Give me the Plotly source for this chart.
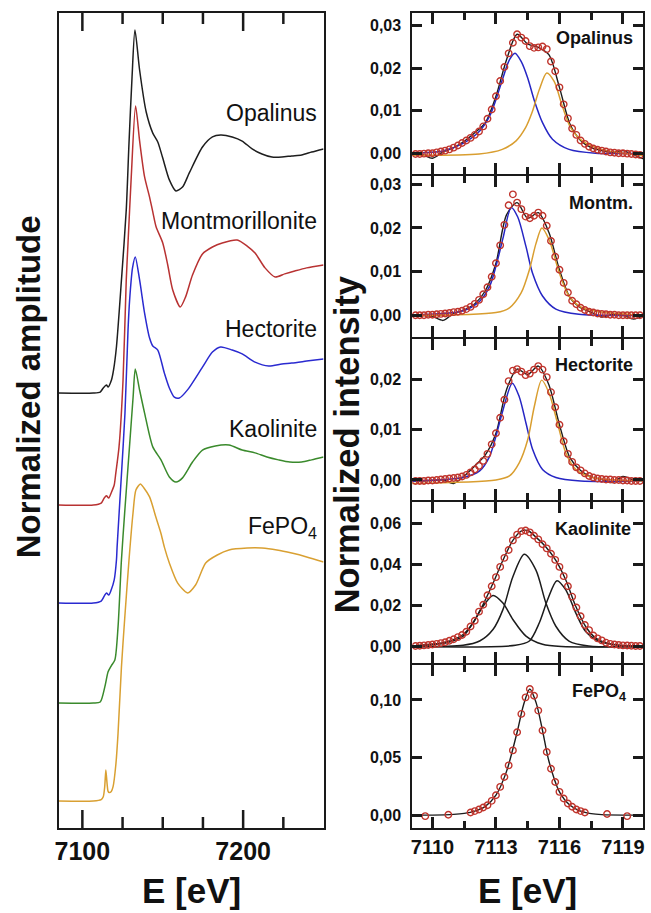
import plotly.graph_objects as go

# ---------------- Left panel: XANES spectra (normalized amplitude, stacked) ----------------
XAS_NAMES = ["Opalinus", "Montmorillonite", "Hectorite", "Kaolinite", "FePO<sub>4</sub>"]
XAS_OFFSETS = [1.8125, 1.346, 0.9375, 0.521, 0.1125]
XAS_COLORS = ["#1e1e1e", "#b83232", "#2a2ad0", "#3a8a2c", "#d9a032"]

OPA_E = [7085.2, 7106.8, 7111.1, 7113.0, 7115.0, 7116.0, 7118.1, 7119.4, 7121.2, 7124.4, 7127.3, 7129.0,
         7130.9, 7132.7, 7135.6, 7139.7, 7143.8, 7146.9, 7150.0, 7154.1, 7158.2, 7162.3, 7166.5, 7174.7,
         7180.9, 7186.0, 7193.2, 7199.4, 7205.6, 7211.7, 7217.9, 7224.1, 7230.2, 7236.4, 7242.6, 7250.0]
OPA_A = [0, 0, 0.004, 0.021, 0.033, 0.025, 0.054, 0.096, 0.193, 0.479, 0.763, 1.042,
         1.317, 1.513, 1.346, 1.171, 1.083, 1.046, 0.979, 0.888, 0.842, 0.858, 0.917, 1.025,
         1.067, 1.075, 1.067, 1.05, 1.017, 0.996, 0.983, 0.983, 0.988, 0.992, 1.004, 1.017]

MON_E = [7085.2, 7106.8, 7111.7, 7113.6, 7115.0, 7116.4, 7117.9, 7119.8, 7120.8, 7122.8, 7125.3, 7127.3,
         7128.4, 7130.4, 7133.1, 7135.6, 7138.7, 7141.8, 7143.8, 7145.9, 7150.0, 7153.1, 7156.2, 7160.9,
         7164.2, 7168.5, 7174.7, 7180.9, 7187.0, 7196.3, 7202.5, 7207.4, 7213.6, 7219.9, 7225.9, 7232.1,
         7239.5, 7250.0]
MON_A = [0, 0, 0.008, 0.029, 0.038, 0.029, 0.05, 0.083, 0.133, 0.242, 0.521, 0.938,
         1.092, 1.367, 1.663, 1.517, 1.367, 1.283, 1.221, 1.158, 1.092, 1.0, 0.896, 0.825,
         0.867, 0.958, 1.046, 1.075, 1.092, 1.104, 1.079, 1.05, 0.988, 0.95, 0.963, 0.975,
         0.988, 1.0]

HEC_E = [7085.2, 7106.8, 7111.7, 7113.6, 7115.0, 7116.4, 7117.9, 7119.8, 7121.2, 7121.6, 7124.1, 7126.5,
         7128.4, 7129.4, 7131.2, 7132.9, 7135.6, 7138.7, 7141.8, 7143.8, 7146.9, 7151.0, 7154.1, 7157.2,
         7160.3, 7165.4, 7174.7, 7180.9, 7186.0, 7193.2, 7199.4, 7207.4, 7215.9, 7224.1, 7230.2, 7239.5,
         7250.0]
HEC_A = [0, 0, 0.008, 0.029, 0.042, 0.033, 0.054, 0.096, 0.179, 0.233, 0.513, 0.792,
         1.138, 1.263, 1.396, 1.442, 1.346, 1.208, 1.104, 1.071, 1.054, 0.958, 0.896, 0.858,
         0.854, 0.888, 0.983, 1.046, 1.067, 1.054, 1.038, 1.004, 0.988, 0.996, 1.0, 1.008,
         1.017]

KAO_E = [7085.2, 7106.8, 7111.1, 7114.0, 7116.0, 7117.9, 7120.2, 7122.2, 7124.3, 7126.3, 7129.3, 7131.6,
         7132.9, 7135.6, 7138.7, 7143.8, 7148.9, 7154.1, 7158.2, 7162.3, 7168.5, 7174.7, 7182.7, 7191.2,
         7199.4, 7207.4, 7214.8, 7222.0, 7229.0, 7236.4, 7242.6, 7250.0]
KAO_A = [0, 0, 0.004, 0.068, 0.13, 0.154, 0.179, 0.318, 0.596, 0.792, 1.067, 1.279,
         1.392, 1.304, 1.208, 1.067, 1.013, 0.942, 0.921, 0.938, 1.004, 1.054, 1.071, 1.075,
         1.054, 1.042, 1.025, 1.013, 1.004, 1.004, 1.013, 1.025]

FEP_E = [7085.2, 7106.8, 7111.7, 7113.0, 7113.9, 7114.6, 7115.4, 7116.0, 7116.7, 7118.0, 7119.1, 7120.8,
         7122.2, 7124.3, 7126.4, 7129.0, 7131.5, 7133.3, 7136.1, 7138.3, 7141.8, 7145.9, 7148.8, 7151.0,
         7154.1, 7159.3, 7165.4, 7170.4, 7176.7, 7183.9, 7191.2, 7202.5, 7211.7, 7221.0, 7230.2, 7239.5,
         7250.0]
FEP_A = [0, 0, 0.006, 0.018, 0.06, 0.129, 0.07, 0.04, 0.035, 0.04, 0.06, 0.15,
         0.283, 0.558, 0.767, 1.004, 1.2, 1.296, 1.321, 1.304, 1.267, 1.179, 1.117, 1.058,
         0.992, 0.908, 0.867, 0.9, 0.992, 1.025, 1.046, 1.054, 1.054, 1.046, 1.033, 1.017,
         0.996]

XAS_E = [OPA_E, MON_E, HEC_E, KAO_E, FEP_E]
XAS_A = [OPA_A, MON_A, HEC_A, KAO_A, FEP_A]

# ---------------- Right panels: pre-edge fits (normalized intensity) ----------------
PRE_LABELS = ["Opalinus", "Montm.", "Hectorite", "Kaolinite", "FePO<sub>4</sub>"]

GRID_E = [7109.2, 7109.4, 7109.6, 7109.8, 7110.0, 7110.2, 7110.4, 7110.6, 7110.8, 7111.0,
          7111.2, 7111.4, 7111.6, 7111.8, 7112.0, 7112.2, 7112.4, 7112.6, 7112.8, 7113.0,
          7113.2, 7113.4, 7113.6, 7113.8, 7114.0, 7114.2, 7114.4, 7114.6, 7114.8, 7115.0,
          7115.2, 7115.4, 7115.6, 7115.8, 7116.0, 7116.2, 7116.4, 7116.6, 7116.8, 7117.0,
          7117.2, 7117.4, 7117.6, 7117.8, 7118.0, 7118.2, 7118.4, 7118.6, 7118.8, 7119.0,
          7119.2, 7119.4, 7119.6, 7119.8]

OPA_FIT = [-0.0002, -0.0002, -0.0001, 0.0, 0.0, 0.0002, 0.0004, 0.0006, 0.0009, 0.0013,
           0.0018, 0.0024, 0.003, 0.0036, 0.0043, 0.0051, 0.0063, 0.0081, 0.0103, 0.0134,
           0.017, 0.0203, 0.0235, 0.026, 0.028, 0.0272, 0.0264, 0.0252, 0.0248, 0.0249,
           0.0251, 0.0245, 0.0216, 0.0193, 0.0155, 0.0115, 0.0082, 0.0058, 0.0043, 0.003,
           0.0022, 0.0015, 0.0011, 0.0008, 0.0006, 0.0004, 0.0002, 0.0001, 0.0, 0.0,
           -0.0001, -0.0002, -0.0003, -0.0004]
MON_FIT = [0.0, 0.0, 0.0, 0.0001, 0.0001, 0.0002, 0.0003, 0.0004, 0.0005, 0.0007,
           0.0008, 0.001, 0.0014, 0.0019, 0.0026, 0.0035, 0.0048, 0.0064, 0.0088, 0.0119,
           0.016, 0.0207, 0.0252, 0.0277, 0.0258, 0.0243, 0.0226, 0.0222, 0.0228, 0.0235,
           0.0228, 0.0205, 0.017, 0.0134, 0.0104, 0.0074, 0.0052, 0.0033, 0.0025, 0.0017,
           0.0012, 0.0008, 0.0006, 0.0004, 0.0003, 0.0002, 0.0001, 0.0001, 0.0, 0.0,
           0.0, 0.0, 0.0, 0.0]
HEC_FIT = [-0.0002, -0.0002, -0.0002, -0.0001, -0.0001, 0.0, 0.0001, 0.0002, 0.0003, 0.0004,
           0.0005, 0.0007, 0.001, 0.0015, 0.0021, 0.0028, 0.0038, 0.0052, 0.0071, 0.0093,
           0.0124, 0.016, 0.0197, 0.0218, 0.0221, 0.0216, 0.0209, 0.0212, 0.022, 0.0227,
           0.022, 0.0205, 0.0175, 0.0145, 0.011, 0.0077, 0.0052, 0.0036, 0.0025, 0.0019,
           0.0013, 0.0008, 0.0005, 0.0003, 0.0002, 0.0001, 0.0001, 0.0, 0.0, -0.0001,
           -0.0001, -0.0002, -0.0002, -0.0002]
KAO_FIT = [0.0003, 0.0004, 0.0006, 0.0008, 0.001, 0.0013, 0.0017, 0.0021, 0.0028, 0.0036,
           0.0046, 0.0056, 0.0072, 0.0098, 0.0126, 0.017, 0.0204, 0.025, 0.0294, 0.0338,
           0.0388, 0.0432, 0.047, 0.0517, 0.0545, 0.0562, 0.0565, 0.0556, 0.054, 0.0522,
           0.0498, 0.0478, 0.0452, 0.0422, 0.0388, 0.0343, 0.0294, 0.0243, 0.019, 0.0148,
           0.0105, 0.008, 0.0054, 0.004, 0.003, 0.0019, 0.0013, 0.001, 0.0008, 0.0006,
           0.0005, 0.0004, 0.0003, 0.0003]

FEP_FIT_E = [7109.66, 7110.75, 7111.8, 7112.0, 7112.2, 7112.4, 7112.6, 7112.8, 7113.0, 7113.2,
             7113.4, 7113.6, 7113.8, 7114.0, 7114.2, 7114.4, 7114.6, 7114.8, 7115.0, 7115.2,
             7115.4, 7115.6, 7115.8, 7116.0, 7116.2, 7116.4, 7116.6, 7116.8, 7117.0, 7117.2,
             7118.25, 7119.2]
FEP_FIT = [-0.0009, 0.0003, 0.0023, 0.0035, 0.0049, 0.0066, 0.0086, 0.0124, 0.0173, 0.0245,
           0.0331, 0.0432, 0.0562, 0.072, 0.0879, 0.1023, 0.1095, 0.1037, 0.0908, 0.0735,
           0.0548, 0.0403, 0.0288, 0.0202, 0.0144, 0.0101, 0.0072, 0.0049, 0.0035, 0.0023,
           0.0009, -0.0009]

# measured spectra (black lines)
MEAS_E = [7109.0, 7109.5, 7110.0, 7110.5, 7111.0, 7111.5, 7112.0, 7112.5, 7113.0, 7113.5,
          7114.0, 7114.5, 7115.0, 7115.5, 7116.0, 7116.5, 7117.0, 7117.5, 7118.0, 7118.5,
          7119.0, 7119.5, 7120.0]
OPA_MEAS = [-0.0004, -0.0003, -0.0012, 0.0003, 0.0013, 0.0028, 0.0048, 0.0072, 0.0134, 0.022,
            0.028, 0.0257, 0.0249, 0.0232, 0.0155, 0.0068, 0.003, 0.0013, 0.0006, 0.0002,
            0.0006, -0.0004, -0.0014]
MON_MEAS = [0.0, 0.0, -0.0003, -0.0012, 0.0004, 0.0012, 0.0026, 0.0056, 0.0119, 0.023,
            0.0258, 0.0222, 0.0235, 0.019, 0.0104, 0.004, 0.0017, 0.0007, -0.0004, 0.0002,
            0.0, -0.0009, 0.0]
HEC_MEAS = [-0.0002, -0.0002, -0.0001, 0.0, -0.0007, 0.0008, 0.0028, 0.005, 0.0093, 0.018,
            0.0221, 0.021, 0.0227, 0.019, 0.011, 0.0044, 0.0019, 0.0006, 0.0001, -0.0005,
            0.0007, 0.0, -0.0002]
KAO_SUM_E = [7109.0, 7110.6, 7111.45, 7111.92, 7112.39, 7112.86, 7113.33, 7113.8, 7114.19, 7114.5,
             7114.89, 7115.36, 7115.83, 7116.3, 7116.77, 7117.23, 7117.7, 7118.5, 7120.0]
KAO_SUM = [0.0003, 0.0021, 0.0059, 0.0116, 0.0204, 0.0308, 0.042, 0.0517, 0.0562, 0.0565,
           0.0533, 0.0485, 0.042, 0.0324, 0.0196, 0.0099, 0.0043, 0.0011, 0.0003]
FEP_LINE_E = [7109.0, 7110.0, 7111.0, 7111.5, 7112.0, 7112.5, 7113.0, 7113.5, 7114.0, 7114.3,
              7114.6, 7114.9, 7115.2, 7115.5, 7116.0, 7116.5, 7117.0, 7117.5, 7118.0, 7119.0, 7120.0]
FEP_LINE = [0.0, 0.0, 0.0006, 0.0015, 0.0035, 0.0076, 0.0173, 0.038, 0.072, 0.0955,
            0.1095, 0.0975, 0.0735, 0.047, 0.0202, 0.0086, 0.0035, 0.0013, 0.0004, 0.0, 0.0]

# fit components
OPA_C1_E = [7109.0, 7110.5, 7111.45, 7112.23, 7112.7, 7113.0, 7113.33, 7113.64, 7113.9, 7114.19, 7114.5, 7114.8, 7115.2, 7115.67, 7116.45, 7117.7, 7120.0]
OPA_C1 = [0.0, 0.0005, 0.0023, 0.0052, 0.0087, 0.0126, 0.0177, 0.022, 0.0235, 0.0216, 0.0177, 0.0126, 0.0072, 0.0033, 0.0009, 0.0, 0.0]
OPA_C2_E = [7109.0, 7112.2, 7113.3, 7113.95, 7114.4, 7114.7, 7115.05, 7115.4, 7115.75, 7116.14, 7116.53, 7117.08, 7118.0, 7120.0]
OPA_C2 = [-0.0005, -0.0002, 0.0009, 0.0029, 0.006, 0.0095, 0.015, 0.0189, 0.0169, 0.011, 0.006, 0.0029, 0.0009, -0.0006]
MON_C1_E = [7109.0, 7111.45, 7112.23, 7112.7, 7113.0, 7113.33, 7113.72, 7114.03, 7114.42, 7114.73, 7115.2, 7115.83, 7116.92, 7120.0]
MON_C1 = [0.0, 0.001, 0.0032, 0.0066, 0.0112, 0.0176, 0.0247, 0.0225, 0.0157, 0.0096, 0.0044, 0.0014, 0.0002, 0.0]
MON_C2_E = [7109.0, 7113.0, 7113.64, 7114.19, 7114.58, 7114.89, 7115.17, 7115.52, 7116.0, 7116.45, 7117.08, 7118.2, 7120.0]
MON_C2 = [-0.0001, 0.0006, 0.0017, 0.0051, 0.0104, 0.0164, 0.02, 0.0172, 0.0096, 0.0044, 0.0017, 0.0006, 0.0]
HEC_C1_E = [7109.0, 7111.45, 7112.23, 7112.7, 7113.0, 7113.33, 7113.77, 7114.1, 7114.42, 7114.73, 7115.2, 7115.83, 7117.0, 7120.0]
HEC_C1 = [-0.0002, 0.0005, 0.0018, 0.0047, 0.0087, 0.0139, 0.0193, 0.0166, 0.0113, 0.0061, 0.0021, 0.0005, -0.0002, -0.0002]
HEC_C2_E = [7109.0, 7113.0, 7113.64, 7114.1, 7114.5, 7114.81, 7115.16, 7115.52, 7115.91, 7116.3, 7116.77, 7117.55, 7120.0]
HEC_C2 = [-0.0007, 0.0, 0.0008, 0.0034, 0.008, 0.0146, 0.0199, 0.0172, 0.0113, 0.0054, 0.0021, 0.0005, -0.0002]
KAO_C1_E = [7109.0, 7110.67, 7111.45, 7111.92, 7112.39, 7112.86, 7113.33, 7113.8, 7114.42, 7115.2, 7116.1, 7120.0]
KAO_C1 = [0.0002, 0.0019, 0.0051, 0.0116, 0.0196, 0.0249, 0.0212, 0.0132, 0.0051, 0.0011, 0.0, 0.0]
KAO_C2_E = [7109.0, 7111.45, 7112.23, 7112.86, 7113.33, 7113.8, 7114.34, 7114.89, 7115.36, 7115.83, 7116.45, 7117.38, 7120.0]
KAO_C2 = [0.0, 0.0006, 0.0027, 0.0083, 0.018, 0.034, 0.0449, 0.0372, 0.0212, 0.0099, 0.0027, 0.0003, 0.0]
KAO_C3_E = [7109.0, 7113.92, 7114.58, 7115.05, 7115.44, 7115.88, 7116.3, 7116.77, 7117.23, 7117.86, 7118.8, 7120.0]
KAO_C3 = [0.0, 0.0006, 0.0027, 0.0116, 0.0228, 0.0321, 0.0276, 0.0164, 0.0075, 0.0027, 0.0006, 0.0]

PRE_TICKVALS = [[0.0, 0.01, 0.02, 0.03], [0.0, 0.01, 0.02, 0.03], [0.0, 0.01, 0.02],
                [0.0, 0.02, 0.04, 0.06], [0.0, 0.05, 0.10]]
PRE_TICKTEXT = [["0,00", "0,01", "0,02", "0,03"], ["0,00", "0,01", "0,02", "0,03"],
                ["0,00", "0,01", "0,02"], ["0,00", "0,02", "0,04", "0,06"], ["0,00", "0,05", "0,10"]]
PRE_YRANGE = [[-0.0049, 0.033], [-0.005, 0.0319], [-0.004, 0.0281], [-0.008, 0.0704], [-0.0112, 0.1304]]
E_TICKS_RIGHT = [7110, 7113, 7116, 7119]
E_MINOR_RIGHT = [7111.5, 7114.5, 7117.5]
E_TICKS_LEFT = [7100, 7200]
E_MINOR_LEFT = [7125, 7150, 7175, 7225]

# ---------------- figure ----------------
W, H = 651, 913
FONT = "Liberation Sans, Arial, sans-serif"
FRAME = "#1a1a1a"
BLUE = "#2626c4"
ORANGE = "#d99e30"
RED = "#c0342c"
LEFT_XRANGE = [7085.2, 7250]
LEFT_YRANGE = [0, 3.396]
RIGHT_XRANGE = [7109.05, 7119.95]


def fx(px):
    return px / W


def fy(px):
    return 1 - px / H


fig = go.Figure()

for E, A, off, col in zip(XAS_E, XAS_A, XAS_OFFSETS, XAS_COLORS):
    fig.add_trace(go.Scatter(x=E, y=[a + off for a in A], mode="lines", xaxis="x", yaxis="y",
                             line=dict(color=col, width=1.5, shape="spline", smoothing=0.7),
                             showlegend=False, hoverinfo="skip"))

# tick marks for the left panel drawn as short segments (bottom and top of the frame)
tick_x, tick_y = [], []
for v, L in [(v, 18) for v in E_TICKS_LEFT] + [(v, 11) for v in E_MINOR_LEFT]:
    d = L * (LEFT_YRANGE[1] - LEFT_YRANGE[0]) / 815
    tick_x += [v, v, None, v, v, None]
    tick_y += [LEFT_YRANGE[0], LEFT_YRANGE[0] + d, None, LEFT_YRANGE[1] - d, LEFT_YRANGE[1], None]
fig.add_trace(go.Scatter(x=tick_x, y=tick_y, mode="lines", xaxis="x", yaxis="y",
                         line=dict(color=FRAME, width=2.5), showlegend=False, hoverinfo="skip"))

meas = [(MEAS_E, OPA_MEAS), (MEAS_E, MON_MEAS), (MEAS_E, HEC_MEAS), (KAO_SUM_E, KAO_SUM), (FEP_LINE_E, FEP_LINE)]
comps = [
    [(OPA_C1_E, OPA_C1, BLUE), (OPA_C2_E, OPA_C2, ORANGE)],
    [(MON_C1_E, MON_C1, BLUE), (MON_C2_E, MON_C2, ORANGE)],
    [(HEC_C1_E, HEC_C1, BLUE), (HEC_C2_E, HEC_C2, ORANGE)],
    [(KAO_C1_E, KAO_C1, "#1c1c1c"), (KAO_C2_E, KAO_C2, "#1c1c1c"), (KAO_C3_E, KAO_C3, "#1c1c1c")],
    [],
]
fits = [(GRID_E, OPA_FIT), (GRID_E, MON_FIT), (GRID_E, HEC_FIT), (GRID_E, KAO_FIT), (FEP_FIT_E, FEP_FIT)]

panel_px = [(13, 174), (176, 337), (339, 500), (502, 663), (665, 828)]

for i in range(5):
    xa, ya = "x%d" % (i + 2), "y%d" % (i + 2)
    mE, mV = meas[i]
    fig.add_trace(go.Scatter(x=mE, y=mV, mode="lines", xaxis=xa, yaxis=ya,
                             line=dict(color="#1c1c1c", width=1.4, shape="spline", smoothing=0.8),
                             showlegend=False, hoverinfo="skip"))
    for cE, cV, col in comps[i]:
        fig.add_trace(go.Scatter(x=cE, y=cV, mode="lines", xaxis=xa, yaxis=ya,
                                 line=dict(color=col, width=1.5, shape="spline", smoothing=0.8),
                                 showlegend=False, hoverinfo="skip"))
    fE, fV = fits[i]
    fig.add_trace(go.Scatter(x=fE, y=fV, mode="markers", xaxis=xa, yaxis=ya,
                             marker=dict(symbol="circle-open", size=6.5, color=RED, line=dict(width=1.4)),
                             showlegend=False, hoverinfo="skip"))

layout = dict(
    width=W, height=H, margin=dict(l=0, r=0, t=0, b=0),
    paper_bgcolor="white", plot_bgcolor="white", showlegend=False,
    font=dict(family=FONT, color="#111"),
)

layout["xaxis"] = dict(
    domain=[fx(55), fx(322)], range=LEFT_XRANGE, anchor="y",
    tickmode="array", tickvals=E_TICKS_LEFT, ticktext=[str(v) for v in E_TICKS_LEFT], ticks="",
    showline=True, linewidth=2, linecolor=FRAME, mirror=True,
    showgrid=False, zeroline=False,
    tickfont=dict(family=FONT, size=25, color="#111", weight="bold"),
)
layout["yaxis"] = dict(
    domain=[fy(828), fy(13)], range=LEFT_YRANGE, anchor="x",
    showticklabels=False, ticks="", showline=True, linewidth=2, linecolor=FRAME, mirror=True,
    showgrid=False, zeroline=False,
)

for i, (top, bot) in enumerate(panel_px):
    n = i + 2
    layout["xaxis%d" % n] = dict(
        domain=[fx(411.5), fx(644)], range=RIGHT_XRANGE, anchor="y%d" % n,
        tickmode="array", tickvals=E_TICKS_RIGHT, ticktext=[str(v) for v in E_TICKS_RIGHT],
        ticks="inside", ticklen=11, tickwidth=2.5, tickcolor=FRAME,
        minor=dict(tickmode="array", tickvals=E_MINOR_RIGHT, ticks="inside", ticklen=7,
                   tickwidth=2.5, tickcolor=FRAME),
        showline=True, linewidth=2, linecolor=FRAME, mirror="allticks",
        showgrid=False, zeroline=False, showticklabels=(i == 4),
        tickfont=dict(family=FONT, size=20, color="#111", weight="bold"),
    )
    layout["yaxis%d" % n] = dict(
        domain=[fy(bot), fy(top)], range=PRE_YRANGE[i], anchor="x%d" % n,
        tickmode="array", tickvals=PRE_TICKVALS[i], ticktext=PRE_TICKTEXT[i],
        ticks="inside", ticklen=10, tickwidth=2.5, tickcolor=FRAME,
        showline=True, linewidth=2, linecolor=FRAME, mirror="allticks",
        showgrid=False, zeroline=False, ticklabelstandoff=6,
        tickfont=dict(family=FONT, size=16, color="#111", weight="bold"),
    )

ann = []
left_label_y = [113, 221, 329, 429, 527]
for name, yy in zip(XAS_NAMES, left_label_y):
    ann.append(dict(text=name, x=fx(317), y=fy(yy), xref="paper", yref="paper", xanchor="right",
                    yanchor="middle", showarrow=False, font=dict(family=FONT, size=23, color="#111")))
right_label_y = [38, 203, 365, 529, 692]
right_label_x = [636, 636, 636, 634, 629]
for name, xx, yy in zip(PRE_LABELS, right_label_x, right_label_y):
    ann.append(dict(text=name, x=fx(xx), y=fy(yy), xref="paper", yref="paper", xanchor="right",
                    yanchor="middle", showarrow=False,
                    font=dict(family=FONT, size=18, color="#111", weight="bold")))
ann.append(dict(text="Normalized amplitude", x=fx(24.5), y=fy(387), xref="paper", yref="paper",
                textangle=-90, showarrow=False, xanchor="center", yanchor="middle",
                font=dict(family=FONT, size=33, color="#111", weight="bold")))
ann.append(dict(text="Normalized intensity", x=fx(346), y=fy(445), xref="paper", yref="paper",
                textangle=-90, showarrow=False, xanchor="center", yanchor="middle",
                font=dict(family=FONT, size=34.5, color="#111", weight="bold")))
ann.append(dict(text="E [eV]", x=fx(188.5), y=fy(890), xref="paper", yref="paper",
                showarrow=False, xanchor="center", yanchor="middle",
                font=dict(family=FONT, size=35, color="#111", weight="bold")))
ann.append(dict(text="E [eV]", x=fx(528), y=fy(890), xref="paper", yref="paper",
                showarrow=False, xanchor="center", yanchor="middle",
                font=dict(family=FONT, size=35, color="#111", weight="bold")))
layout["annotations"] = ann

fig.update_layout(**layout)
fig.write_html("out.html")
